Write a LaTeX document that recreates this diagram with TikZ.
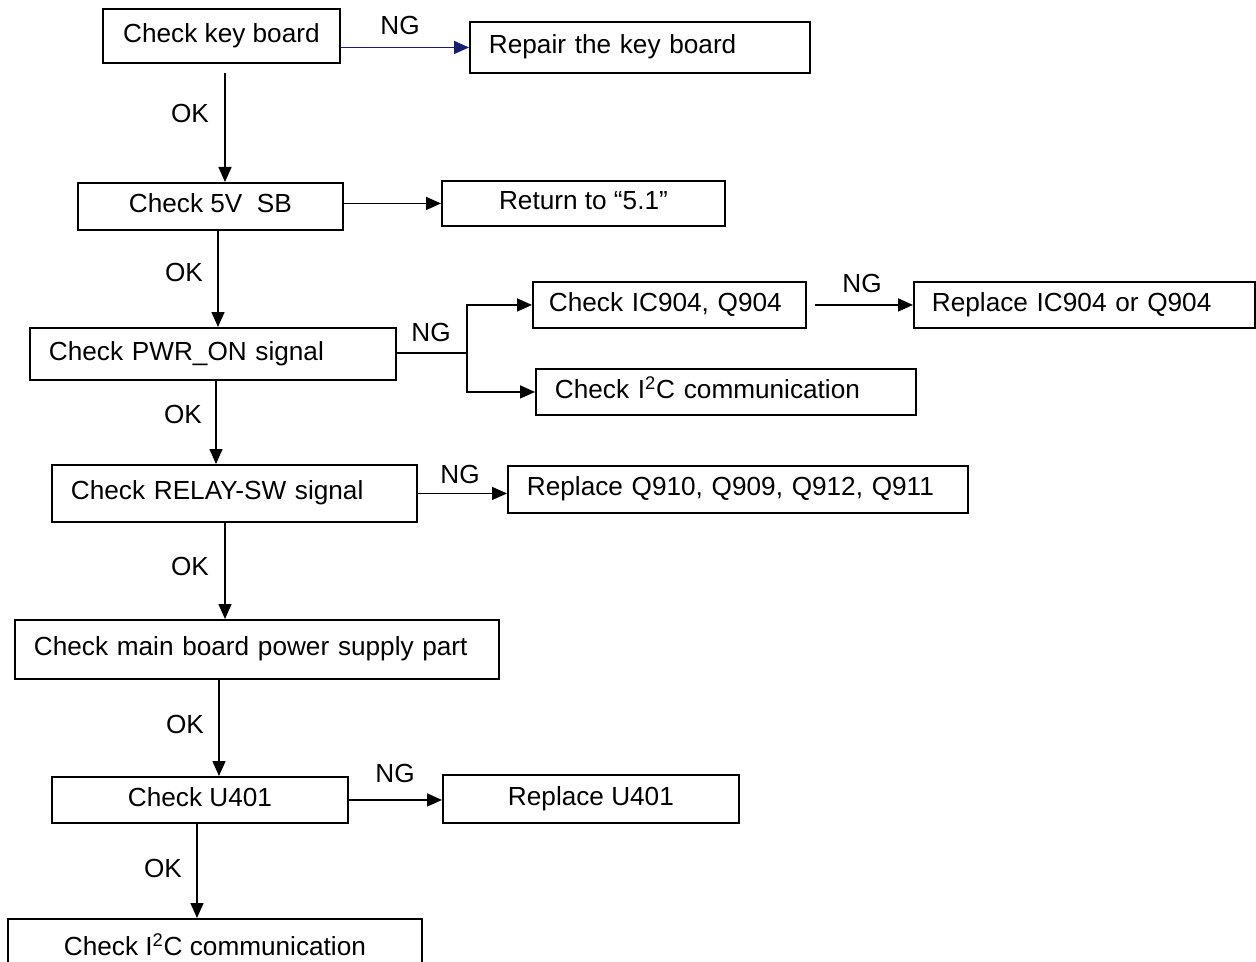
\documentclass[tikz,border=0pt]{standalone}
\usepackage{fontspec}
\setmainfont{Liberation Sans}
\usetikzlibrary{arrows.meta}
\definecolor{ngblue}{RGB}{22,30,110}

\begin{document}
\begin{tikzpicture}[x=0.02cm, y=-0.02cm,
    font=\fontsize{14.9}{18}\selectfont,
    box/.style={draw, line width=1.1pt, anchor=north west, inner sep=0pt,
                text height=0.38cm, text depth=0.12cm},
    lbox/.style={box, inner xsep=0.38cm, align=left},
    line/.style={line width=0.9pt},
    arr/.style={line, -{Triangle[length=0.3cm,width=0.26cm]}},
    lbl/.style={inner sep=0pt}]
\useasboundingbox (0,0) rectangle (1256,962);

\node[box, minimum width=4.74cm, minimum height=1.08cm] (kb) at (102,8) {Check key board};
\node[lbox, text width=6.04cm, minimum height=1.02cm] (rep) at (469,21) {Repair the key board};
\node[box, minimum width=5.30cm, minimum height=0.94cm] (sb) at (77,182) {Check 5V\ \ SB};
\node[box, minimum width=5.66cm, minimum height=0.90cm] (ret) at (441,180) {Return to “5.1”};
\node[lbox, text width=6.56cm, minimum height=1.04cm] (pwr) at (29,327) {Check PWR\_ON signal};
\node[lbox, text width=4.82cm, minimum height=0.92cm, inner xsep=0.32cm] (ic) at (532,281) {Check IC904, Q904};
\node[lbox, text width=6.10cm, minimum height=0.92cm, inner xsep=0.36cm] (ric) at (913,281) {Replace IC904 or Q904};
\node[lbox, text width=6.84cm, minimum height=0.92cm] (icc) at (535,368) {Check I\textsuperscript{2}C communication};
\node[lbox, text width=6.54cm, minimum height=1.14cm] (rly) at (51,464) {Check RELAY-SW signal};
\node[lbox, text width=8.44cm, minimum height=0.94cm] (rq) at (507,465) {Replace Q910, Q909, Q912, Q911};
\node[lbox, text width=8.92cm, minimum height=1.18cm] (mb) at (14,619) {Check main board power supply part};
\node[box, minimum width=5.92cm, minimum height=0.92cm] (u) at (51,776) {Check U401};
\node[box, minimum width=5.92cm, minimum height=0.96cm] (ru) at (442,774) {Replace U401};
\node[box, minimum width=8.28cm, minimum height=1.20cm] (icb) at (7,918) {Check I\textsuperscript{2}C communication};

% OK / NG labels
\node[lbl] (ok1) at (190,113) {OK};
\node[lbl] (ok2) at (184,272) {OK};
\node[lbl] (ok3) at (183,414) {OK};
\node[lbl] (ok4) at (190,566) {OK};
\node[lbl] (ok5) at (185,724) {OK};
\node[lbl] (ok6) at (163,868) {OK};
\node[lbl] (ng1) at (400,25) {NG};
\node[lbl] (ng2) at (431,332) {NG};
\node[lbl] (ng3) at (862,283) {NG};
\node[lbl] (ng4) at (460,474) {NG};
\node[lbl] (ng5) at (395,773) {NG};

% connectors
\draw[arr, ngblue] (kb.east |- rep.west) -- (rep.west);
\draw[arr, shorten <=0.18cm] (kb.south -| 225,0) -- (sb.north -| 225,0);
\draw[arr] (sb.east |- ret.west) -- (ret.west);
\draw[arr] (sb.south -| 218,0) -- (pwr.north -| 218,0);
\coordinate (split) at (467,353);
\draw[line] (pwr.east |- split) -- (split);
\draw[arr] (split) |- (ic.west);
\draw[arr] (split) |- (icc.west);
\draw[arr, shorten <=0.16cm] (ic.east) -- (ric.west);
\draw[arr] (pwr.south -| 216,0) -- (rly.north -| 216,0);
\draw[arr] (rly.east) -- (rly.east -| rq.west);
\draw[arr] (rly.south -| 225,0) -- (mb.north -| 225,0);
\draw[arr] (mb.south -| 219,0) -- (u.north -| 219,0);
\draw[arr] (u.east) -- (u.east -| ru.west);
\draw[arr] (u.south -| 197,0) -- (icb.north -| 197,0);
\end{tikzpicture}
\end{document}
